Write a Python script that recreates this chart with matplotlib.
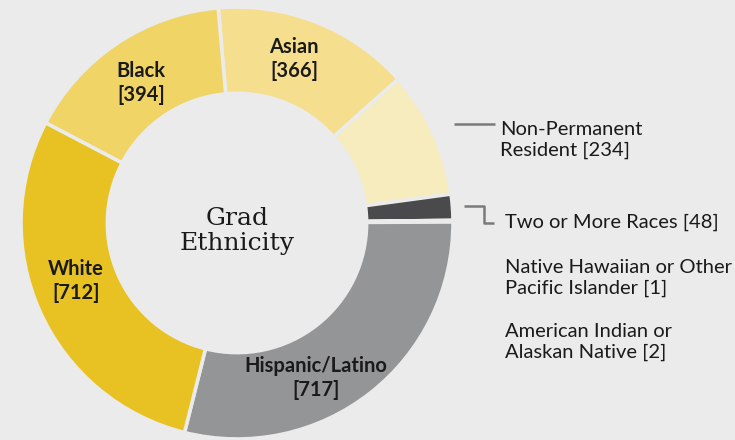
import matplotlib
matplotlib.use("Agg")
import matplotlib.pyplot as plt

categories = ["Asian", "Non-Permanent Resident", "Two or More Races",
              "Native Hawaiian or Other Pacific Islander",
              "American Indian or Alaskan Native",
              "Hispanic/Latino", "White", "Black"]
values = [366, 234, 48, 1, 2, 717, 712, 394]
colors = ["#f5df8f", "#f7ecbd", "#4a4a4c", "#4a4a4c", "#4a4a4c",
          "#949597", "#e8c222", "#f0d466"]

BG = "#ebebeb"
W, H = 735, 440
CX, CY, R = 237, 223, 216

fig = plt.figure(figsize=(W / 100, H / 100), dpi=100, facecolor=BG)
ax = fig.add_axes([(CX - R) / W, (H - CY - R) / H, 2 * R / W, 2 * R / H])
ax.set_facecolor(BG)
ax.pie(values, colors=colors, startangle=95, counterclock=False, radius=1.0,
       wedgeprops=dict(width=0.40, edgecolor=BG, linewidth=2.6))
ax.set_xlim(-1, 1)
ax.set_ylim(-1, 1)
ax.set_aspect("equal")
ax.axis("off")


def px(x, y):
    return (x - CX) / R, (CY - y) / R


lab_font = ["Lato", "DejaVu Sans"]
inside = {"Black": ("Black\n[394]", 141, 83),
          "Asian": ("Asian\n[366]", 294, 59),
          "White": ("White\n[712]", 76, 281),
          "Hispanic/Latino": ("Hispanic/Latino\n[717]", 316, 378)}
for name, (txt, x, y) in inside.items():
    ax.text(*px(x, y), txt, ha="center", va="center", fontsize=14.5,
            fontweight="bold", family=lab_font, color="#1a1a1a",
            linespacing=1.22)

ax.text(*px(237, 231), "Grad\nEthnicity", ha="center", va="center",
        fontsize=18, family=["DejaVu Serif"], color="#1a1a1a", linespacing=1.15)

line_col = "#7a7a7a"
# leader lines
x0, y0 = px(454, 124)
x1, y1 = px(495, 124)
ax.plot([x0, x1], [y0, y1], color=line_col, lw=1.8, solid_capstyle="butt",
        clip_on=False)
a = px(464, 206)
b = px(484, 206)
c = px(484, 223)
d = px(494, 223)
ax.plot([a[0], b[0], c[0], d[0]], [a[1], b[1], c[1], d[1]], color=line_col,
        lw=1.8, solid_capstyle="butt", clip_on=False)

right_labels = [("Non-Permanent\nResident [234]", 500, 140),
                ("Two or More Races [48]", 505, 222),
                ("Native Hawaiian or Other\nPacific Islander [1]", 505, 278),
                ("American Indian or\nAlaskan Native [2]", 505, 342)]
for txt, x, y in right_labels:
    ax.text(*px(x, y), txt, ha="left", va="center", fontsize=14.5,
            family=lab_font, color="#1a1a1a", linespacing=1.3, clip_on=False)

fig.savefig("out.png", dpi=100, facecolor=BG)
